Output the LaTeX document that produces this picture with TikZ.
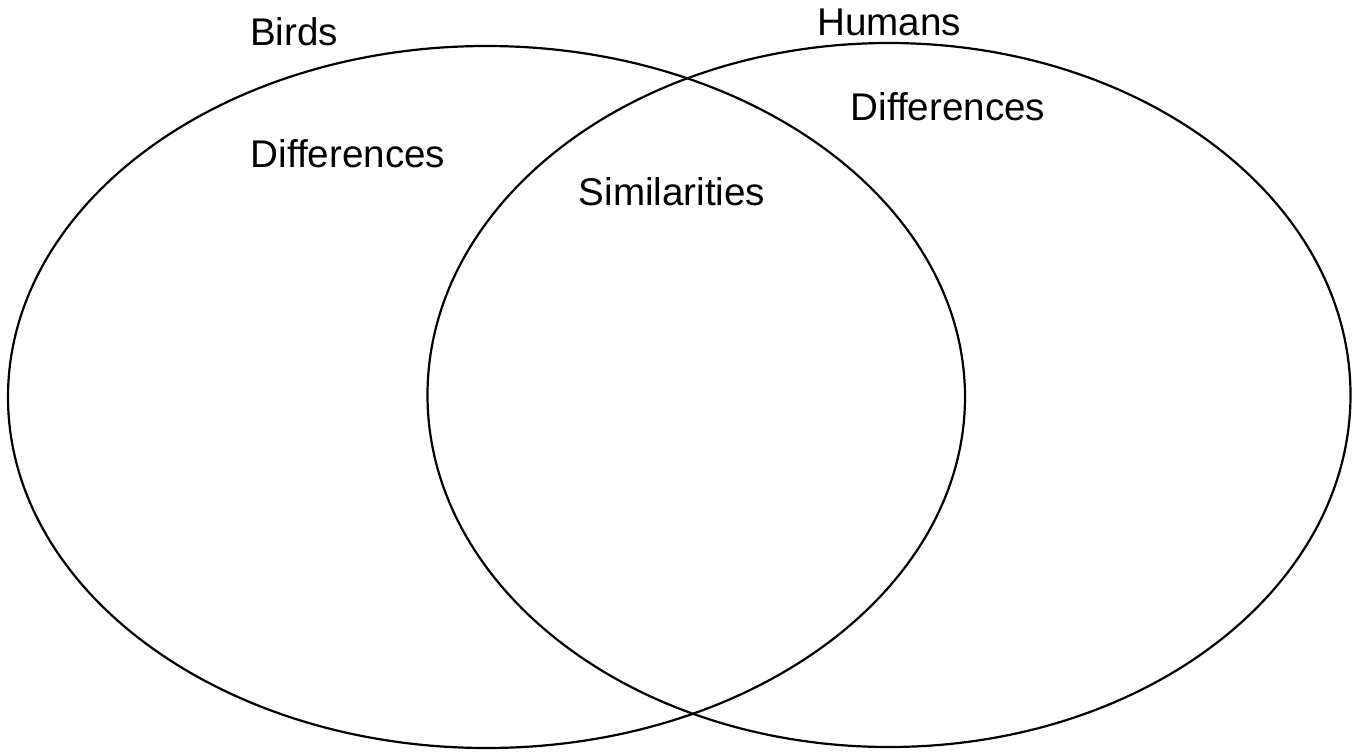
\documentclass[tikz,border=0pt]{standalone}
\usepackage{fontspec}
\setmainfont{Liberation Sans}
\usetikzlibrary{shapes.geometric}
\begin{document}
\begin{tikzpicture}[x=0.5pt,y=-0.5pt,font=\fontsize{19.3}{23}\selectfont,
	set/.style={ellipse,draw,line width=1.1pt,inner sep=0pt,outer sep=0pt},
	lab/.style={anchor=base,inner sep=0pt}]
	\useasboundingbox (0,0) rectangle (1356,751);
	% the two sets
	\node[set,minimum width=478.5pt,minimum height=351pt] (birds) at (486.5,397) {};
	\node[set,minimum width=461.5pt,minimum height=352pt] (humans) at (889,395) {};
	% labels
	\node[lab] (birdsname) at (294,45) {Birds};
	\node[lab] (humansname) at (889,35) {Humans};
	\node[lab] (birdsdiff) at (348,167) {Differences};
	\node[lab] (humansdiff) at (948,120) {Differences};
	\node[lab] (same) at (672,205) {Similarities};
\end{tikzpicture}
\end{document}
